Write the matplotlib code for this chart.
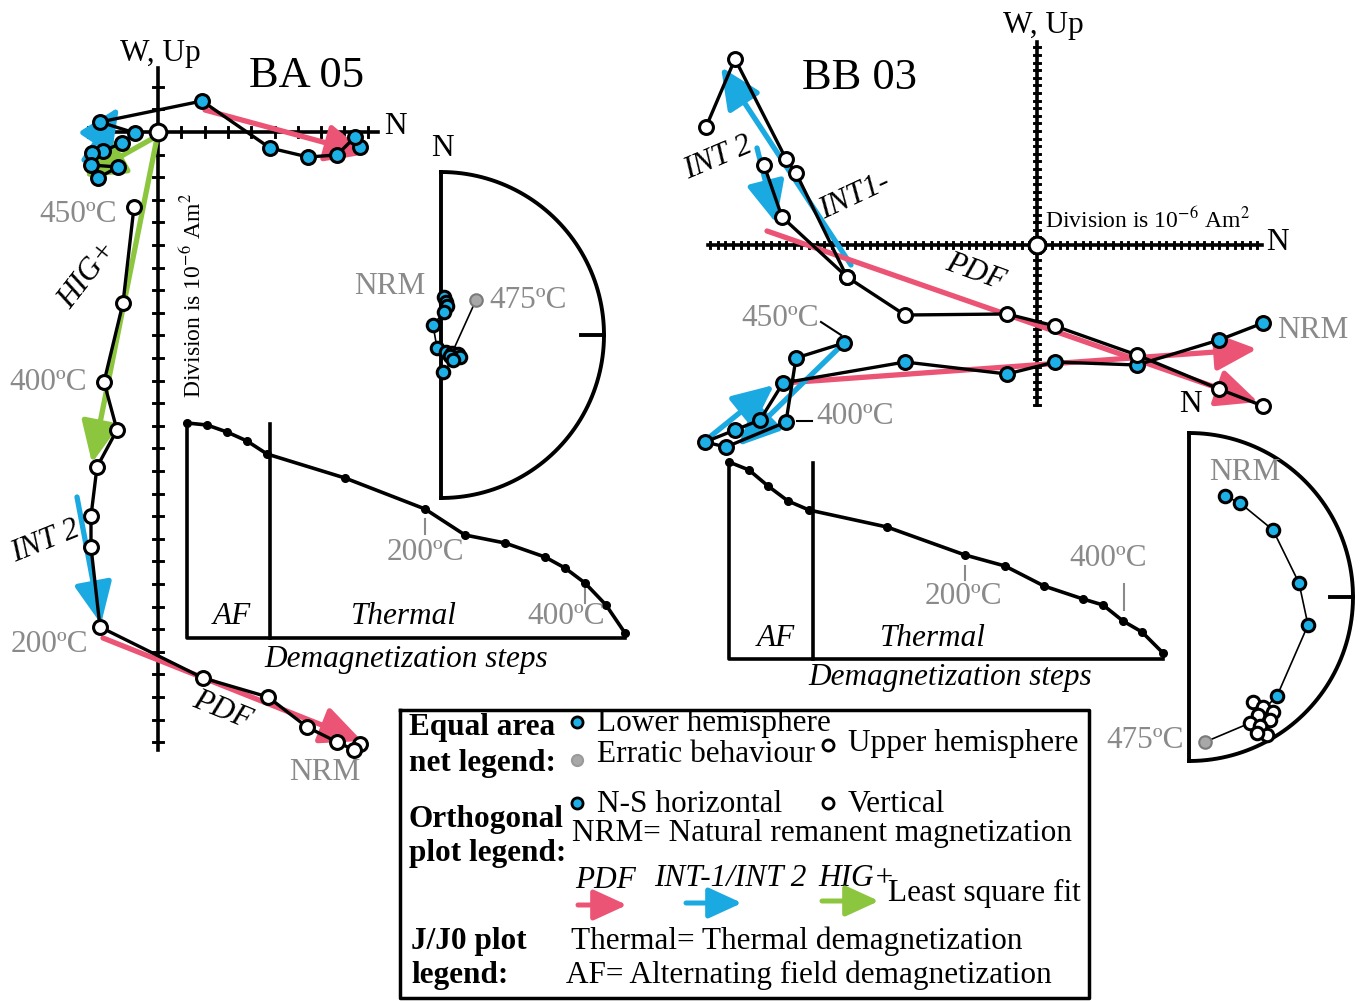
import numpy as np
import matplotlib.pyplot as plt

plt.rcParams['font.family'] = ['Liberation Serif', 'DejaVu Serif']
plt.rcParams['mathtext.fontset'] = 'stix'

BLUE = '#1cb0e6'
ARROW_BLUE = '#1ba9e1'
PINK = '#ec5476'
GREEN = '#8cc63f'
GREY = '#8a8a8a'
ERR = '#a8a8a8'

# ---- BA 05 (positions, pixel units) ----
ba_origin = (158, 132)
ba_hor_x = [360, 355, 337, 308, 270, 202, 100, 135, 122, 103, 92, 91, 118, 98]
ba_hor_y = [147, 137, 155, 157, 148, 101, 122, 133, 143, 151, 153, 165, 167, 178]
ba_ver_x = [360, 354, 337, 307, 268, 203, 100, 91, 91, 97, 117, 104, 123, 134]
ba_ver_y = [744, 750, 742, 727, 697, 678, 627, 547, 516, 467, 430, 382, 303, 207]
ba_fits = [((205, 110), (367, 154), PINK),
           ((157, 136), (84, 177), GREEN),
           ((157, 138), (92, 463), GREEN),
           ((77, 497), (101, 624), ARROW_BLUE),
           ((103, 638), (362, 741), PINK),
           ((84, 160), (119, 107), ARROW_BLUE)]

ba_jj_x = [187, 207, 227, 247, 267, 345, 425, 465, 505, 545, 565, 585, 606, 625]
ba_jj_y = [423, 425, 432, 441, 454, 478, 509, 535, 543, 557, 568, 583, 605, 633]

ba_eq_x = [444, 446, 447, 444, 433, 437, 446, 452, 458, 460, 450, 453, 443]
ba_eq_y = [297, 302, 306, 312, 325, 348, 352, 353, 354, 357, 356, 360, 372]
ba_err = (476, 300)

# ---- BB 03 ----
bb_origin = (1037, 245)
bb_ver_x = [1263, 1219, 1137, 1055, 1007, 905, 847, 782, 764]
bb_ver_y = [406, 389, 355, 326, 314, 315, 277, 217, 165]
bb_ver2_x = [847, 796, 786, 735, 706]
bb_ver2_y = [277, 173, 159, 59, 127]
bb_hor_x = [1263, 1219, 1137, 1055, 1007, 905, 783, 760, 735, 705, 726, 786, 796, 844]
bb_hor_y = [323, 340, 365, 362, 374, 362, 383, 420, 430, 442, 447, 422, 358, 343]
bb_fits = [((851, 265), (721, 67), ARROW_BLUE),
           ((757, 148), (776, 223), ARROW_BLUE),
           ((767, 231), (1258, 402), PINK),
           ((784, 383), (1257, 349), PINK),
           ((706, 440), (774, 385), ARROW_BLUE),
           ((844, 343), (738, 446), ARROW_BLUE)]

bb_jj_x = [729, 749, 768, 788, 809, 887, 965, 1005, 1044, 1083, 1103, 1123, 1142, 1163]
bb_jj_y = [462, 470, 486, 501, 510, 527, 555, 566, 586, 599, 605, 621, 632, 653]

bb_eq_x = [1225, 1240, 1273, 1299, 1308, 1277]
bb_eq_y = [496, 503, 530, 583, 625, 696]
bb_up_x = [1253, 1263, 1273, 1258, 1270, 1250, 1260, 1267, 1257]
bb_up_y = [702, 707, 712, 715, 720, 723, 726, 735, 733]
bb_err = (1205, 742)

fig = plt.figure(figsize=(13.63, 10.01), dpi=100)
ax = fig.add_axes([0, 0, 1, 1])
ax.set_xlim(0, 1363)
ax.set_ylim(1001, 0)
ax.axis('off')

FS = 22.5


def arrow(tail, tip, color, lw=3.8, scale=21):
    ax.annotate('', xy=tip, xytext=tail,
                arrowprops=dict(arrowstyle='-|>,head_length=1.2,head_width=0.55',
                                color=color, lw=lw, shrinkA=0, shrinkB=0,
                                mutation_scale=scale))


def cross_axes(origin, x0, x1, y0, y1, step, tick, lw=2.6):
    ox, oy = origin
    ax.plot([x0, x1], [oy, oy], color='k', lw=lw, zorder=2)
    ax.plot([ox, ox], [y0, y1], color='k', lw=lw, zorder=2)
    for tx in np.concatenate([np.arange(ox, x0, -step[0]), np.arange(ox, x1, step[0])]):
        ax.plot([tx, tx], [oy - tick, oy + tick], color='k', lw=lw * 0.8, zorder=2)
    for ty in np.concatenate([np.arange(oy, y0, -step[1]), np.arange(oy, y1, step[1])]):
        ax.plot([ox - tick, ox + tick], [ty, ty], color='k', lw=lw * 0.8, zorder=2)


def open_pts(xs, ys, ms=10):
    ax.plot(xs, ys, 'o', ms=ms, mfc='white', mec='k', mew=2.2, zorder=6)


def blue_pts(xs, ys, ms=10):
    ax.plot(xs, ys, 'o', ms=ms, mfc=BLUE, mec='k', mew=2.2, zorder=6)


def semi_net(cx, cy, r):
    th = np.linspace(-np.pi / 2, np.pi / 2, 200)
    ax.plot(cx + r * np.cos(th), cy + r * np.sin(th), color='k', lw=2.8)
    ax.plot([cx, cx], [cy - r, cy + r], color='k', lw=2.8)
    ax.plot([cx + r - 23, cx + r], [cy, cy], color='k', lw=2.8)


def jj0(xs, ys, y_bot, x_div, temp_ticks):
    x0, y0 = xs[0], ys[0]
    ax.plot([x0, x0, xs[-1]], [y0, y_bot, y_bot], color='k', lw=2.6)
    ax.plot([x_div, x_div], [y0 + 1, y_bot], color='k', lw=2.6)
    ax.plot(xs, ys, '-o', color='k', lw=2.6, ms=5.5, zorder=3)
    for tx, ya, yb in temp_ticks:
        ax.plot([tx, tx], [ya, yb], color=GREY, lw=1.5)


# ================= BA 05 =================
cross_axes(ba_origin, 85, 378, 68, 750, (23.3, 22.6), 5)
ax.plot(ba_hor_x, ba_hor_y, color='k', lw=2.4, zorder=4)
ax.plot(ba_ver_x, ba_ver_y, color='k', lw=2.4, zorder=4)
for tail, tip, c in ba_fits:
    arrow(tail, tip, c)
blue_pts(ba_hor_x, ba_hor_y)
open_pts(ba_ver_x, ba_ver_y)
open_pts([ba_origin[0]], [ba_origin[1]], ms=12)

ax.text(160, 53, 'W, Up', fontsize=FS, ha='center', va='center')
ax.text(395, 127, 'N', fontsize=FS, ha='center', va='center')
ax.text(307, 76, 'BA 05', fontsize=32, ha='center', va='center')
ax.text(193, 295, r'Division is 10$^{-6}$ Am$^{2}$', fontsize=17, rotation=90,
        ha='center', va='center')
ax.text(117, 215, '450ºC', fontsize=FS, color=GREY, ha='right', va='center')
ax.text(87, 383, '400ºC', fontsize=FS, color=GREY, ha='right', va='center')
ax.text(88, 645, '200ºC', fontsize=FS, color=GREY, ha='right', va='center')
ax.text(325, 772, 'NRM', fontsize=FS, color=GREY, ha='center', va='center')
ax.text(88, 275, 'HIG+', fontsize=FS, style='italic', rotation=52,
        ha='center', va='center', rotation_mode='anchor')
ax.text(45, 542, 'INT 2', fontsize=FS, style='italic', rotation=22,
        ha='center', va='center', rotation_mode='anchor')
ax.text(222, 710, 'PDF', fontsize=FS, style='italic', rotation=-22,
        ha='center', va='center', rotation_mode='anchor')

# J/J0
jj0(ba_jj_x, ba_jj_y, 638, 270, [(425, 519, 534), (585, 589, 603)])
ax.text(425, 552, '200ºC', fontsize=FS, color=GREY, ha='center', va='center')
ax.text(566, 617, '400ºC', fontsize=FS, color=GREY, ha='center', va='center')
ax.text(232, 617, 'AF', fontsize=FS, style='italic', ha='center', va='center')
ax.text(404, 617, 'Thermal', fontsize=FS, style='italic', ha='center', va='center')
ax.text(406, 660, 'Demagnetization steps', fontsize=FS, style='italic',
        ha='center', va='center')

# equal area
semi_net(441, 335, 163)
ax.text(442, 148, 'N', fontsize=FS, ha='center', va='center')
ax.plot(ba_eq_x, ba_eq_y, color='k', lw=1.2, zorder=4)
ax.plot([ba_err[0], ba_eq_x[7]], [ba_err[1], ba_eq_y[7]], color='k', lw=1.2, zorder=4)
blue_pts(ba_eq_x, ba_eq_y, ms=9)
ax.plot(*ba_err, 'o', ms=9, mfc=ERR, mec='#7a7a7a', mew=1.5, zorder=6)
ax.text(390, 287, 'NRM', fontsize=FS, color=GREY, ha='center', va='center')
ax.text(489, 300, '475ºC', fontsize=FS, color=GREY, ha='left', va='center')

# ================= BB 03 =================
cross_axes(bb_origin, 708, 1262, 42, 405, (7.6, 7.6), 3, lw=2.6)
ax.plot(bb_ver_x, bb_ver_y, color='k', lw=2.4, zorder=4)
ax.plot(bb_ver2_x, bb_ver2_y, color='k', lw=2.4, zorder=4)
ax.plot(bb_hor_x, bb_hor_y, color='k', lw=2.4, zorder=4)
for tail, tip, c in bb_fits:
    arrow(tail, tip, c)
blue_pts(bb_hor_x, bb_hor_y)
open_pts(bb_ver_x + bb_ver2_x, bb_ver_y + bb_ver2_y)
open_pts([bb_origin[0]], [bb_origin[1]], ms=12)

ax.text(1043, 25, 'W, Up', fontsize=FS, ha='center', va='center')
ax.text(1277, 242, 'N', fontsize=FS, ha='center', va='center')
ax.text(1190, 405, 'N', fontsize=FS, ha='center', va='center')
ax.text(860, 78, 'BB 03', fontsize=32, ha='center', va='center')
ax.text(1045, 220, r'Division is 10$^{-6}$ Am$^{2}$', fontsize=17,
        ha='left', va='center')
ax.text(780, 318, '450ºC', fontsize=FS, color=GREY, ha='center', va='center')
ax.plot([821, 841], [322, 335], color='k', lw=1.5)
ax.text(855, 416, '400ºC', fontsize=FS, color=GREY, ha='center', va='center')
ax.plot([797, 812], [421, 421], color='k', lw=1.5)
ax.text(1313, 331, 'NRM', fontsize=FS, color=GREY, ha='center', va='center')
ax.text(718, 158, 'INT 2', fontsize=FS, style='italic', rotation=23,
        ha='center', va='center', rotation_mode='anchor')
ax.text(855, 196, 'INT1-', fontsize=FS, style='italic', rotation=25,
        ha='center', va='center', rotation_mode='anchor')
ax.text(975, 272, 'PDF', fontsize=FS, style='italic', rotation=-20,
        ha='center', va='center', rotation_mode='anchor')

# J/J0
jj0(bb_jj_x, bb_jj_y, 659, 813, [(965, 566, 580), (1124, 584, 610)])
ax.text(963, 597, '200ºC', fontsize=FS, color=GREY, ha='center', va='center')
ax.text(1108, 558, '400ºC', fontsize=FS, color=GREY, ha='center', va='center')
ax.text(776, 638, 'AF', fontsize=FS, style='italic', ha='center', va='center')
ax.text(933, 638, 'Thermal', fontsize=FS, style='italic', ha='center', va='center')
ax.text(950, 678, 'Demagnetization steps', fontsize=FS, style='italic',
        ha='center', va='center')

# equal area
semi_net(1189, 597, 164)
ax.plot(bb_eq_x + [1258, 1250, bb_err[0]], bb_eq_y + [715, 723, bb_err[1]],
        color='k', lw=1.2, zorder=4)
blue_pts(bb_eq_x, bb_eq_y, ms=9)
open_pts(bb_up_x, bb_up_y, ms=9)
ax.plot(*bb_err, 'o', ms=9, mfc=ERR, mec='#7a7a7a', mew=1.5, zorder=6)
ax.text(1245, 473, 'NRM', fontsize=FS, color=GREY, ha='center', va='center')
ax.text(1145, 740, '475ºC', fontsize=FS, color=GREY, ha='center', va='center')

# ================= legend box =================
ax.plot([400, 1089, 1089, 400, 400], [710, 710, 998, 998, 710], color='k', lw=2.5)
bold = dict(fontsize=FS, fontweight='bold', ha='left', va='center')
norm = dict(fontsize=FS, ha='left', va='center')
ax.text(409, 728, 'Equal area', **bold)
ax.text(409, 763, 'net legend:', **bold)
ax.text(409, 819, 'Orthogonal', **bold)
ax.text(409, 853, 'plot legend:', **bold)
ax.text(411, 942, 'J/J0 plot', **bold)
ax.text(411, 976, 'legend:', **bold)

ax.plot(577, 722, 'o', ms=8, mfc=BLUE, mec='k', mew=2)
ax.text(597, 724, 'Lower hemisphere', **norm)
ax.plot(577, 760, 'o', ms=8, mfc=ERR, mec='#9a9a9a', mew=1.5)
ax.text(597, 755, 'Erratic behaviour', **norm)
ax.plot(828, 745, 'o', ms=8, mfc='white', mec='k', mew=2)
ax.text(848, 743, 'Upper hemisphere', **norm)
ax.plot(577, 803, 'o', ms=8, mfc=BLUE, mec='k', mew=2)
ax.text(597, 804, 'N-S horizontal', **norm)
ax.plot(828, 803, 'o', ms=8, mfc='white', mec='k', mew=2)
ax.text(848, 804, 'Vertical', **norm)
ax.text(572, 834, 'NRM= Natural remanent magnetization', **norm)
ax.text(575, 881, 'PDF', fontsize=FS, style='italic', ha='left', va='center')
ax.text(654, 879, 'INT-1/INT 2', fontsize=FS, style='italic', ha='left', va='center')
ax.text(818, 878, 'HIG+', fontsize=FS, style='italic', ha='left', va='center')
ax.text(888, 893, 'Least square fit', **norm)
arrow((578, 905), (627, 905), PINK, lw=3.6, scale=17)
arrow((686, 903), (742, 903), ARROW_BLUE, lw=3.6, scale=17)
arrow((822, 901), (879, 901), GREEN, lw=3.6, scale=17)
ax.text(571, 941, 'Thermal= Thermal demagnetization', **norm)
ax.text(566, 975, 'AF= Alternating field demagnetization', **norm)

fig.savefig('out.png', dpi=100)
